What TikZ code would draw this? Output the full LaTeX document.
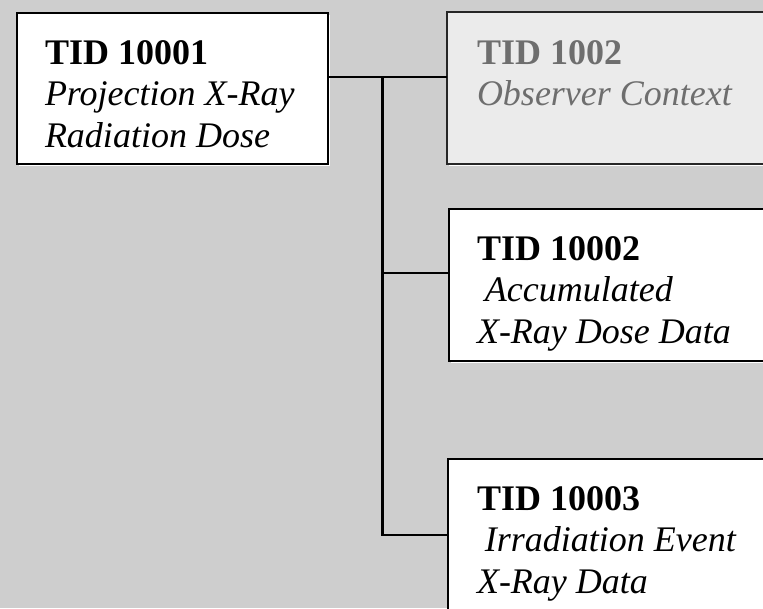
\documentclass[tikz,border=0pt]{standalone}
\usepackage{fontspec}
\setmainfont{Liberation Serif}
\usetikzlibrary{shadows}
\definecolor{canvas}{HTML}{CECECE}
\definecolor{paleBox}{HTML}{EBEBEB}
\definecolor{paleText}{HTML}{6E6E6E}
\newcommand\tidlines[1]{\begin{tabular}{@{}l@{}}#1\end{tabular}}

\begin{document}
\begin{tikzpicture}[x=1pt,y=-1pt,
  tidbox/.style={rectangle, draw=black, line width=2.6pt, fill=white,
    anchor=north west, inner sep=0pt, outer sep=0pt,
    general shadow={fill=white, shadow xshift=2pt, shadow yshift=-2pt}},
  ghostbox/.style={tidbox, fill=paleBox, draw=black!85},
  tidtext/.style={anchor=north west, inner sep=0pt, outer sep=0pt,
    font=\fontsize{36}{41.5}\selectfont},
  link/.style={draw=black, line width=2.6pt}]

\useasboundingbox (0,0) rectangle (763,608);
\clip (0,0) rectangle (763,608);
\fill[canvas] (0,0) rectangle (763,608);

% template boxes
\node[tidbox, minimum width=311pt, minimum height=151pt] (root) at (17,13) {};
\node[ghostbox, minimum width=360pt, minimum height=152pt] (observer) at (447,12) {};
\node[tidbox, minimum width=360pt, minimum height=152pt] (accum) at (449,209) {};
\node[tidbox, minimum width=360pt, minimum height=240pt] (irrad) at (448,459) {};

% box texts
\node[tidtext] (rootText) at (45,35) {\tidlines{\textbf{TID 10001}\\
  \textit{Projection X-Ray}\\ \textit{Radiation Dose}}};
\node[tidtext, text=paleText] (observerText) at (477,35) {\tidlines{\textbf{TID 1002}\\
  \textit{Observer Context}}};
\node[tidtext] (accumText) at (477,231) {\tidlines{\textbf{TID 10002}\\
  \hspace{0.22em}\textit{Accumulated}\\ \textit{X-Ray Dose Data}}};
\node[tidtext] (irradText) at (477,481) {\tidlines{\textbf{TID 10003}\\
  \hspace{0.22em}\textit{Irradiation Event}\\ \textit{X-Ray Data}}};

% tree connectors
\coordinate (j1) at (382.5,77);
\coordinate (j2) at (382.5,273);
\coordinate (j3) at (382.5,535);
\draw[link] (root.east |- j1) -- (observer.west |- j1);
\draw[link] (j1) -- (j3) -- (irrad.west |- j3);
\draw[link] (j2) -- (accum.west |- j2);
\end{tikzpicture}
\end{document}
